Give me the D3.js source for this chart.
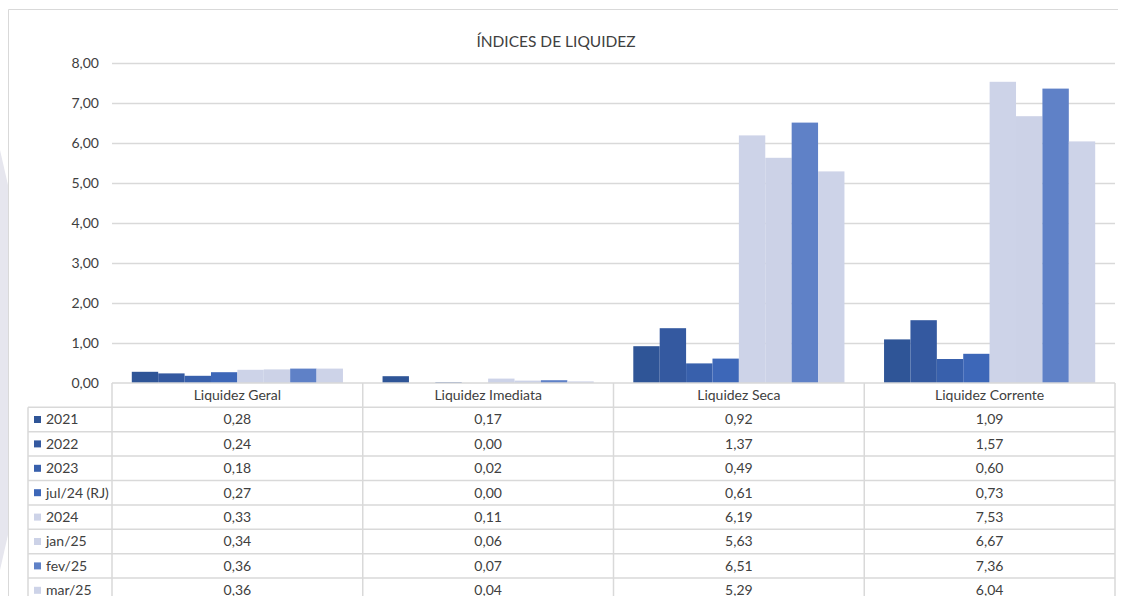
<!DOCTYPE html>
<html>
<head>
<meta charset="utf-8">
<script src="https://cdn.jsdelivr.net/npm/d3@7"></script>
<style>
  body { margin: 0; background: #fff; }
  svg { display: block; font-family: Lato, "Open Sans", sans-serif; }
</style>
</head>
<body>
<script>
// dados do grafico
var categorias = ["Liquidez Geral", "Liquidez Imediata", "Liquidez Seca", "Liquidez Corrente"];
var series = ["2021", "2022", "2023", "jul/24 (RJ)", "2024", "jan/25", "fev/25", "mar/25"];
var cores = ["#2F5597", "#3459A0", "#3860AC", "#3D67B8", "#CDD3E8", "#CCD2E7", "#5F81C7", "#CDD3E8"];
var v2021 = [0.28, 0.17, 0.92, 1.09];
var v2022 = [0.24, 0.00, 1.37, 1.57];
var v2023 = [0.18, 0.02, 0.49, 0.60];
var vJul24 = [0.27, 0.00, 0.61, 0.73];
var v2024 = [0.33, 0.11, 6.19, 7.53];
var vJan25 = [0.34, 0.06, 5.63, 6.67];
var vFev25 = [0.36, 0.07, 6.51, 7.36];
var vMar25 = [0.36, 0.04, 5.29, 6.04];
var ticksY = [0, 1, 2, 3, 4, 5, 6, 7, 8];
var valores = [v2021, v2022, v2023, vJul24, v2024, vJan25, vFev25, vMar25];

var width = 1123, height = 596;
var fs = 14; // tamanho da fonte
var ptBR = d3.formatLocale({ decimal: ",", thousands: ".", grouping: [3], currency: ["R$", ""] });
var fmt = ptBR.format(".2f");

var svg = d3.select("body").append("svg")
    .attr("width", width)
    .attr("height", height);

// mancha clara fora da moldura (lado esquerdo)
svg.append("path")
    .attr("d", "M0,150 L8,185 L8,535 L0,570 Z")
    .attr("fill", "#E6E6EE");

// moldura do grafico (so topo e esquerda aparecem)
svg.append("path")
    .attr("d", "M8.5,600 L8.5,9.5 L1118,9.5")
    .attr("fill", "none")
    .attr("stroke", "#D9D9D9");

// titulo
svg.append("text")
    .attr("x", 556).attr("y", 47)
    .attr("text-anchor", "middle")
    .attr("font-size", 15.5)
    .attr("fill", "#404040")
    .text("ÍNDICES DE LIQUIDEZ");

var x0 = d3.scaleBand().domain(categorias).range([112, 1115]).padding(0);
var x1 = d3.scaleBand().domain(series).range([0, x0.bandwidth()]).paddingInner(0).paddingOuter(0.75);
var y = d3.scaleLinear().domain([0, 8]).range([383, 63]);

// linhas de grade
svg.append("g").selectAll("line")
    .data(ticksY.filter(function(t) { return t > 0; }))
    .enter().append("line")
    .attr("x1", 112).attr("x2", 1115)
    .attr("y1", function(d) { return Math.round(y(d)) + 0.5; })
    .attr("y2", function(d) { return Math.round(y(d)) + 0.5; })
    .attr("stroke", "#D9D9D9")
    .attr("stroke-width", 1.5);

// rotulos do eixo y
svg.append("g").selectAll("text")
    .data(ticksY)
    .enter().append("text")
    .attr("x", 99)
    .attr("y", function(d) { return y(d) + 5; })
    .attr("text-anchor", "end")
    .attr("font-size", fs)
    .attr("fill", "#404040")
    .text(function(d) { return fmt(d); });

// barras
var grupos = svg.append("g").selectAll("g")
    .data(categorias)
    .enter().append("g")
    .attr("transform", function(c) { return "translate(" + x0(c) + ",0)"; });

grupos.selectAll("rect")
    .data(function(c, ci) {
        return series.map(function(s, si) { return { s: s, si: si, v: valores[si][ci] }; });
    })
    .enter().append("rect")
    .attr("x", function(d) { return x1(d.s); })
    .attr("width", x1.bandwidth())
    .attr("y", function(d) { return y(d.v); })
    .attr("height", function(d) { return y(0) - y(d.v); })
    .attr("fill", function(d) { return cores[d.si]; });

// tabela de dados
var topo = 383, altCab = 24.3, altLinha = 24.4, esq = 28;
var tabela = svg.append("g");
var corLinha = "#D9D9D9";

// cabecalho
tabela.append("line")
    .attr("x1", 112).attr("x2", 1115).attr("y1", topo).attr("y2", topo)
    .attr("stroke", corLinha).attr("stroke-width", 1.5);
tabela.selectAll(".cab")
    .data(categorias)
    .enter().append("text")
    .attr("class", "cab")
    .attr("x", function(c) { return x0(c) + x0.bandwidth() / 2; })
    .attr("y", topo + 17)
    .attr("text-anchor", "middle")
    .attr("font-size", fs)
    .attr("fill", "#404040")
    .text(function(c) { return c; });

// linhas horizontais
var ys = d3.range(series.length + 1).map(function(i) { return topo + altCab + i * altLinha; });
tabela.selectAll(".hl")
    .data(ys)
    .enter().append("line")
    .attr("x1", esq).attr("x2", 1115)
    .attr("y1", function(d) { return d; }).attr("y2", function(d) { return d; })
    .attr("stroke", corLinha).attr("stroke-width", 1.5);

// linhas verticais
var xs = categorias.map(function(c) { return x0(c); }).concat([x0.range()[1]]);
tabela.selectAll(".vl")
    .data(xs)
    .enter().append("line")
    .attr("x1", function(d) { return d; }).attr("x2", function(d) { return d; })
    .attr("y1", topo).attr("y2", height)
    .attr("stroke", corLinha).attr("stroke-width", 1.5);
tabela.append("line")
    .attr("x1", esq).attr("x2", esq)
    .attr("y1", topo + altCab).attr("y2", height)
    .attr("stroke", corLinha).attr("stroke-width", 1.5);

// linhas da legenda + valores
var linhas = tabela.selectAll(".linha")
    .data(series)
    .enter().append("g")
    .attr("transform", function(s, i) { return "translate(0," + (topo + altCab + i * altLinha) + ")"; });

linhas.append("rect")
    .attr("x", 34).attr("y", altLinha / 2 - 3.5)
    .attr("width", 7).attr("height", 7)
    .attr("fill", function(s, i) { return cores[i]; });

linhas.append("text")
    .attr("x", 46).attr("y", altLinha / 2 + 5)
    .attr("font-size", fs)
    .attr("fill", "#404040")
    .text(function(s) { return s; });

linhas.selectAll(".val")
    .data(function(s, si) { return valores[si].map(function(v, ci) { return { c: categorias[ci], v: v }; }); })
    .enter().append("text")
    .attr("x", function(d) { return x0(d.c) + x0.bandwidth() / 2; })
    .attr("y", altLinha / 2 + 5)
    .attr("text-anchor", "middle")
    .attr("font-size", fs)
    .attr("fill", "#404040")
    .text(function(d) { return fmt(d.v); });
</script>
</body>
</html>
